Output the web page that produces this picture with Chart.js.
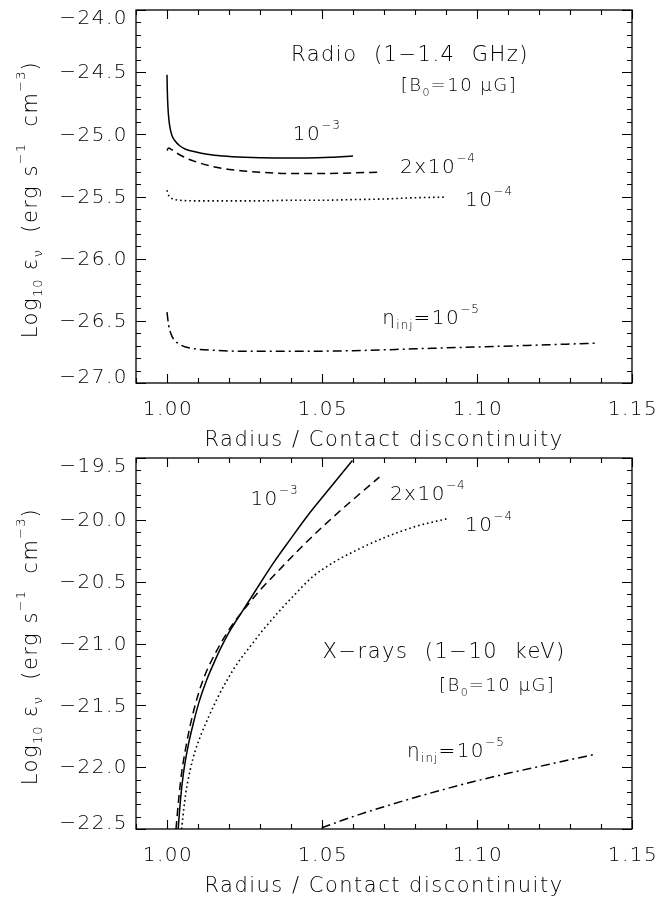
<!DOCTYPE html>
<html>
<head>
<meta charset="utf-8">
<script src="https://cdn.jsdelivr.net/npm/chart.js@4.4.0/dist/chart.umd.min.js"></script>
<style>
  body { margin: 0; background: #fff; }
  canvas { position: absolute; left: 0; }
</style>
</head>
<body>
<canvas id="radio" width="672" height="450" style="top:0"></canvas>
<canvas id="xray" width="672" height="451" style="top:450px"></canvas>
<script>
// ---- data ----
// Radio (1-1.4 GHz)
const radioEta1e3X = [1.0000, 1.0001, 1.0003, 1.0006, 1.0010, 1.0016, 1.0025, 1.004, 1.006, 1.009, 1.013, 1.018, 1.025, 1.035, 1.045, 1.053, 1.06];
const radioEta1e3Y = [-24.52, -24.65, -24.78, -24.88, -24.95, -25.01, -25.05, -25.09, -25.12, -25.14, -25.16, -25.175, -25.185, -25.19, -25.19, -25.185, -25.175];
const radioEta2e4X = [1.0000, 1.0005, 1.001, 1.0025, 1.0045, 1.007, 1.0105, 1.015, 1.021, 1.03, 1.04, 1.05, 1.06, 1.0685];
const radioEta2e4Y = [-25.13, -25.11, -25.115, -25.14, -25.17, -25.20, -25.23, -25.26, -25.285, -25.305, -25.315, -25.315, -25.31, -25.305];
const radioEta1e4X = [1.000, 1.0005, 1.0015, 1.004, 1.01, 1.02, 1.03, 1.04, 1.05, 1.06, 1.07, 1.08, 1.09];
const radioEta1e4Y = [-25.45, -25.49, -25.515, -25.53, -25.535, -25.535, -25.535, -25.53, -25.53, -25.525, -25.52, -25.51, -25.505];
const radioEta1e5X = [1.000, 1.0005, 1.0012, 1.0022, 1.0038, 1.006, 1.009, 1.015, 1.025, 1.04, 1.06, 1.08, 1.10, 1.12, 1.138];
const radioEta1e5Y = [-26.43, -26.53, -26.60, -26.65, -26.685, -26.71, -26.725, -26.737, -26.745, -26.745, -26.74, -26.725, -26.71, -26.695, -26.68];

// X-rays (1-10 keV)
const xrayEta1e3X = [1.0036, 1.0044, 1.0053, 1.0068, 1.0085, 1.0105, 1.0128, 1.0150, 1.0171, 1.020, 1.0235, 1.029, 1.0343, 1.040, 1.0451, 1.0525, 1.0598];
const xrayEta1e3Y = [-22.50, -22.25, -22.05, -21.83, -21.645, -21.46, -21.295, -21.165, -21.05, -20.91, -20.77, -20.555, -20.35, -20.15, -19.975, -19.745, -19.52];
const xrayEta2e4X = [1.0029, 1.0038, 1.0047, 1.006, 1.0075, 1.0095, 1.012, 1.016, 1.0205, 1.025, 1.03, 1.036, 1.043, 1.05, 1.058, 1.0685];
const xrayEta2e4Y = [-22.50, -22.25, -22.05, -21.85, -21.66, -21.46, -21.27, -21.06, -20.87, -20.72, -20.57, -20.41, -20.23, -20.06, -19.88, -19.655];
const xrayEta1e4X = [1.0047, 1.0060, 1.0075, 1.0092, 1.0111, 1.0135, 1.0163, 1.0194, 1.0230, 1.0268, 1.031, 1.036, 1.041, 1.047, 1.054, 1.062, 1.0705, 1.080, 1.0905];
const xrayEta1e4Y = [-22.50, -22.22, -22.02, -21.86, -21.73, -21.59, -21.44, -21.295, -21.15, -21.025, -20.89, -20.745, -20.61, -20.46, -20.34, -20.235, -20.14, -20.055, -19.99];
const xrayEta1e5X = [1.0499, 1.06, 1.07, 1.08, 1.09, 1.10, 1.11, 1.12, 1.13, 1.1374];
const xrayEta1e5Y = [-22.49, -22.40, -22.32, -22.245, -22.175, -22.11, -22.05, -21.995, -21.94, -21.90];

// tick labels
const xTickLabels = ['1.00', '1.05', '1.10', '1.15'];
const radioYTickLabels = ['\u221227.0', '\u221226.5', '\u221226.0', '\u221225.5', '\u221225.0', '\u221224.5', '\u221224.0'];
const xrayYTickLabels = ['\u221222.5', '\u221222.0', '\u221221.5', '\u221221.0', '\u221220.5', '\u221220.0', '\u221219.5'];

const FONT = '"DejaVu Sans", sans-serif';
const W = '200';
const M = '\u2212';

// line styles: solid, dashed, dotted, dash-dot
const styles = [[], [8, 5], [1.6, 3], [9, 4, 2, 4]];

function range(a, b, step) {
  const out = [];
  const n = Math.round((b - a) / step);
  for (let i = 0; i <= n; i++) out.push(+(a + i * step).toFixed(4));
  return out;
}

function parseLabel(s) { return parseFloat(s.replace(M, '-')); }

// text with sub (b) / superscript (p) parts
function drawRich(ctx, parts, x, y, size, align) {
  const segs = parts.map(([t, m]) => {
    const s = m === 'n' ? size : Math.round(size * 0.62);
    ctx.font = `${W} ${s}px ${FONT}`;
    ctx.letterSpacing = m === 'n' ? '1.5px' : '1px';
    return { t, m, s, w: ctx.measureText(t).width };
  });
  const total = segs.reduce((a, s) => a + s.w, 0);
  let cx = align === 'center' ? x - total / 2 : align === 'right' ? x - total : x;
  ctx.textAlign = 'left';
  ctx.textBaseline = 'alphabetic';
  for (const s of segs) {
    ctx.font = `${W} ${s.s}px ${FONT}`;
    ctx.letterSpacing = s.m === 'n' ? '1.5px' : '1px';
    const dy = s.m === 'b' ? size * 0.25 : s.m === 'p' ? -size * 0.55 : 0;
    ctx.fillText(s.t, cx, y + dy);
    cx += s.w;
  }
}

const yTitle = [['Log', 'n'], ['10', 'b'], [' \u03b5', 'n'], ['\u03bd', 'b'], ['  (erg s', 'n'], [M + '1', 'p'], ['  cm', 'n'], [M + '3', 'p'], [')', 'n']];
const xTitle = [['Radius / Contact discontinuity', 'n']];

function framePlugin(panel) {
  return {
    id: 'idlFrame',
    afterDatasetsDraw(chart) {
      const { ctx, chartArea: a, scales: { x, y } } = chart;
      ctx.save();
      ctx.strokeStyle = '#000';
      ctx.fillStyle = '#000';
      ctx.lineWidth = 1.3;
      ctx.strokeRect(a.left, a.top, a.right - a.left, a.bottom - a.top);

      // inward ticks on all four sides
      ctx.lineWidth = 1.1;
      ctx.beginPath();
      for (const v of panel.xMinor) {
        const p = Math.round(x.getPixelForValue(v)) + 0.5;
        const len = Math.abs(v * 20 - Math.round(v * 20)) < 1e-6 ? 9 : 5;
        ctx.moveTo(p, a.bottom); ctx.lineTo(p, a.bottom - len);
        ctx.moveTo(p, a.top); ctx.lineTo(p, a.top + len);
      }
      for (const v of panel.yMinor) {
        const p = Math.round(y.getPixelForValue(v)) + 0.5;
        const len = Math.abs(v * 2 - Math.round(v * 2)) < 1e-6 ? 10 : 5;
        ctx.moveTo(a.left, p); ctx.lineTo(a.left + len, p);
        ctx.moveTo(a.right, p); ctx.lineTo(a.right - len, p);
      }
      ctx.stroke();

      // tick labels
      ctx.font = `${W} 20px ${FONT}`;
      ctx.letterSpacing = '1.5px';
      ctx.textBaseline = 'middle';
      ctx.textAlign = 'center';
      for (const s of xTickLabels) {
        ctx.fillText(s, x.getPixelForValue(parseLabel(s)) + 1, a.bottom + 27);
      }
      ctx.textAlign = 'right';
      for (const s of panel.yLabels) {
        let p = y.getPixelForValue(parseLabel(s));
        p = Math.min(Math.max(p, a.top + 8), a.bottom - 6);
        ctx.fillText(s, a.left - 8, p + 1);
      }

      // axis titles
      drawRich(ctx, xTitle, (a.left + a.right) / 2, a.bottom + 63, 21, 'center');
      ctx.save();
      ctx.translate(30, (a.top + a.bottom) / 2 + 3);
      ctx.rotate(-Math.PI / 2);
      drawRich(ctx, yTitle, 0, 7, 21, 'center');
      ctx.restore();

      // annotations (data coordinates)
      for (const n of panel.notes) {
        const px = x.getPixelForValue(n.x);
        const py = y.getPixelForValue(n.y);
        drawRich(ctx, n.parts, px, py + n.size * 0.36, n.size, n.align);
      }
      ctx.restore();
    }
  };
}

function makePanel(id, panel) {
  const datasets = panel.series.map(([xs, ys], i) => ({
    data: xs.map((v, k) => ({ x: v, y: ys[k] })),
    borderColor: '#000',
    borderWidth: i === 2 ? 1.6 : 1.5,
    borderDash: styles[i],
    pointRadius: 0,
    fill: false,
    cubicInterpolationMode: 'monotone'
  }));
  return new Chart(document.getElementById(id), {
    type: 'line',
    data: { datasets },
    options: {
      responsive: false,
      animation: false,
      layout: { padding: { left: 136, right: 40, top: panel.top, bottom: panel.bottom } },
      plugins: { legend: { display: false }, tooltip: { enabled: false } },
      scales: {
        x: { type: 'linear', display: false, min: 0.99, max: 1.15 },
        y: { type: 'linear', display: false, min: panel.yMin, max: panel.yMax }
      }
    },
    plugins: [framePlugin(panel)]
  });
}

makePanel('radio', {
  top: 10, bottom: 67, yMin: -27.0, yMax: -24.0,
  xMinor: range(0.99, 1.15, 0.01),
  yMinor: range(-27.0, -24.0, 0.1),
  yLabels: radioYTickLabels,
  series: [[radioEta1e3X, radioEta1e3Y], [radioEta2e4X, radioEta2e4Y], [radioEta1e4X, radioEta1e4Y], [radioEta1e5X, radioEta1e5Y]],
  notes: [
    { x: 1.0784, y: -24.346, size: 21, align: 'center', parts: [['Radio  (1' + M + '1.4  GHz)', 'n']] },
    { x: 1.0942, y: -24.603, size: 18, align: 'center', parts: [['[B', 'n'], ['0', 'b'], ['=10 \u03bcG]', 'n']] },
    { x: 1.0406, y: -24.99, size: 20, align: 'left', parts: [['10', 'n'], [M + '3', 'p']] },
    { x: 1.0752, y: -25.254, size: 20, align: 'left', parts: [['2x10', 'n'], [M + '4', 'p']] },
    { x: 1.0961, y: -25.519, size: 20, align: 'left', parts: [['10', 'n'], [M + '4', 'p']] },
    { x: 1.0694, y: -26.468, size: 20, align: 'left', parts: [['\u03b7', 'n'], ['inj', 'b'], ['=10', 'n'], [M + '5', 'p']] }
  ]
});

makePanel('xray', {
  top: 8, bottom: 72, yMin: -22.5, yMax: -19.5,
  xMinor: range(0.99, 1.15, 0.01),
  yMinor: range(-22.5, -19.5, 0.1),
  yLabels: xrayYTickLabels,
  series: [[xrayEta1e3X, xrayEta1e3Y], [xrayEta2e4X, xrayEta2e4Y], [xrayEta1e4X, xrayEta1e4Y], [xrayEta1e5X, xrayEta1e5Y]],
  notes: [
    { x: 1.0269, y: -19.823, size: 20, align: 'left', parts: [['10', 'n'], [M + '3', 'p']] },
    { x: 1.0719, y: -19.783, size: 20, align: 'left', parts: [['2x10', 'n'], [M + '4', 'p']] },
    { x: 1.0961, y: -20.034, size: 20, align: 'left', parts: [['10', 'n'], [M + '4', 'p']] },
    { x: 1.0894, y: -21.06, size: 21, align: 'center', parts: [['X' + M + 'rays  (1' + M + '10  keV)', 'n']] },
    { x: 1.1065, y: -21.335, size: 18, align: 'center', parts: [['[B', 'n'], ['0', 'b'], ['=10 \u03bcG]', 'n']] },
    { x: 1.0774, y: -21.861, size: 20, align: 'left', parts: [['\u03b7', 'n'], ['inj', 'b'], ['=10', 'n'], [M + '5', 'p']] }
  ]
});
</script>
</body>
</html>
